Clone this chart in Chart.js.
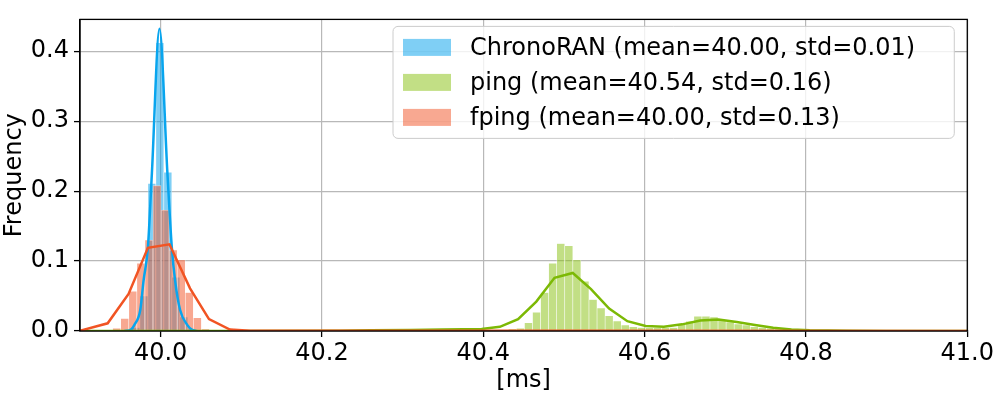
<!DOCTYPE html>
<html>
<head>
<meta charset="utf-8">
<script src="https://cdn.jsdelivr.net/npm/chart.js@4/dist/chart.umd.min.js"></script>
<style>html,body{margin:0;padding:0;background:#fff}canvas{display:block}</style>
</head>
<body>
<canvas id="c" width="996" height="399"></canvas>
<script>
// ---------- data ----------
const X_MIN = 39.9, X_MAX = 41.0;
const Y_MIN = 0, Y_MAX = 0.4455;
const X_TICKS = [40.0, 40.2, 40.4, 40.6, 40.8, 41.0];
const Y_TICKS = [0.0, 0.1, 0.2, 0.3, 0.4];
const X_TITLE = '[ms]';
const Y_TITLE = 'Frequency';
const SERIES_NAMES = [
  'ChronoRAN (mean=40.00, std=0.01)',
  'ping (mean=40.54, std=0.16)',
  'fping (mean=40.00, std=0.13)'
];

// ChronoRAN histogram (bin centres, frequency)
const CHRONO_BINS = [39.9693, 39.9792, 39.9891, 39.9990, 40.0089, 40.0188, 40.0287, 40.0386];
const CHRONO_FREQ = [0.005, 0.050, 0.211, 0.412, 0.227, 0.077, 0.020, 0.003];
// ChronoRAN curve
const CHRONO_LINE_X = [39.955, 39.9632, 39.9673, 39.9747, 39.9788, 39.9842, 39.9891, 39.9985, 40.0084, 40.0138, 40.0179, 40.0241, 40.0331, 40.0385, 40.045];
const CHRONO_LINE_Y = [0.000, 0.002, 0.0085, 0.030, 0.072, 0.120, 0.225, 0.432, 0.225, 0.120, 0.072, 0.030, 0.0085, 0.002, 0.000];

// ping histogram
const PING_BINS = [40.436, 40.446, 40.456, 40.466, 40.476, 40.486, 40.496, 40.506, 40.516, 40.526,
                   40.536, 40.546, 40.556, 40.566, 40.576, 40.586, 40.596, 40.606, 40.616, 40.626,
                   40.636, 40.646, 40.656, 40.666, 40.676, 40.686, 40.696, 40.706, 40.716, 40.726,
                   40.736, 40.746, 40.756, 40.766, 40.776, 40.786];
const PING_FREQ = [0.003, 0.004, 0.012, 0.027, 0.055, 0.097, 0.125, 0.122, 0.102, 0.071,
                   0.045, 0.033, 0.022, 0.0145, 0.0085, 0.006, 0.005, 0.0047, 0.0047, 0.0047,
                   0.005, 0.010, 0.014, 0.021, 0.021, 0.020, 0.0156, 0.013, 0.010, 0.0085,
                   0.006, 0.005, 0.004, 0.003, 0.002, 0.001];
// ping curve
const PING_LINE_X = [39.9, 40.1, 40.2235, 40.26, 40.31, 40.35, 40.3753, 40.3979, 40.4205, 40.4431,
                     40.4657, 40.4883, 40.5109, 40.5335, 40.5560, 40.5786, 40.6012, 40.6238, 40.6464, 40.6690,
                     40.6916, 40.7142, 40.7368, 40.7594, 40.7820, 40.8046, 40.85, 40.9, 41.0];
const PING_LINE_Y = [0.000, 0.000, 0.0004, 0.001, 0.0015, 0.002, 0.0025, 0.003, 0.006, 0.017,
                     0.042, 0.076, 0.083, 0.060, 0.032, 0.014, 0.0072, 0.006, 0.0095, 0.015,
                     0.0165, 0.013, 0.0085, 0.0045, 0.002, 0.001, 0.0003, 0.000, 0.000];

// fping histogram
const FPING_BINS = [39.9455, 39.9555, 39.9655, 39.9755, 39.9855, 39.9955, 40.0055, 40.0155, 40.0255, 40.0355, 40.0455, 40.0555];
const FPING_FREQ = [0.004, 0.018, 0.057, 0.097, 0.130, 0.208, 0.173, 0.116, 0.102, 0.055, 0.019, 0.003];
// fping curve
const FPING_LINE_X = [39.9, 39.9343, 39.9602, 39.9842, 40.0109, 40.0364, 40.0599, 40.0858, 40.111, 40.5, 41.0];
const FPING_LINE_Y = [0.0004, 0.011, 0.053, 0.119, 0.124, 0.061, 0.017, 0.002, 0.0005, 0.0002, 0.000];

// ---------- styles ----------
const FONT = "'DejaVu Sans', 'Liberation Sans', sans-serif";
const BLUE_LINE = 'rgb(8,165,238)', BLUE_FILL = 'rgba(0,160,236,0.5)';
const GREEN_LINE = 'rgb(124,185,5)', GREEN_FILL = 'rgba(133,191,11,0.5)';
const ORANGE_LINE = 'rgb(241,84,35)', ORANGE_FILL = 'rgba(241,81,35,0.5)';

const pts = (xs, ys) => xs.map((x, i) => ({x: x, y: ys[i]}));
const barDs = (label, xs, ys, color, axis, order) => ({
  type: 'bar', label, data: pts(xs, ys), xAxisID: axis, yAxisID: 'y',
  backgroundColor: color, borderColor: 'rgba(255,255,255,0.6)', borderWidth: 0.6,
  barPercentage: 1, categoryPercentage: 1, grouped: false, order
});
const lineDs = (label, xs, ys, color, order, extra) => Object.assign({
  type: 'line', label, data: pts(xs, ys), xAxisID: 'x', yAxisID: 'y',
  borderColor: color, backgroundColor: color, borderWidth: 2.5, pointRadius: 0,
  fill: false, tension: 0, order, clip: 0
}, extra || {});

Chart.defaults.font.family = FONT;
Chart.defaults.font.size = 24;
Chart.defaults.color = '#000';

// invisible x axes (one per histogram so each gets its own bar width), same range as the main x axis
const hiddenX = () => ({
  type: 'linear', position: 'bottom', display: false, offset: false, min: X_MIN, max: X_MAX,
  grid: {offset: false}
});

const bgPlugin = {
  id: 'bg',
  beforeDraw(chart) {
    const c = chart.ctx; c.save(); c.fillStyle = '#fff';
    c.fillRect(0, 0, chart.width, chart.height); c.restore();
  }
};

const framePlugin = {
  id: 'frameAndLegend',
  afterDatasetsDraw(chart) {
    const c = chart.ctx, a = chart.chartArea;
    c.save();
    // axes frame (spines)
    c.strokeStyle = '#000'; c.lineWidth = 1.3;
    c.strokeRect(a.left, a.top, a.right - a.left, a.bottom - a.top);
    // legend box
    const x0 = a.left + 313, y0 = a.top + 7, x1 = a.right - 13, y1 = a.top + 119, r = 5;
    c.beginPath();
    c.moveTo(x0 + r, y0); c.lineTo(x1 - r, y0); c.arcTo(x1, y0, x1, y0 + r, r);
    c.lineTo(x1, y1 - r); c.arcTo(x1, y1, x1 - r, y1, r);
    c.lineTo(x0 + r, y1); c.arcTo(x0, y1, x0, y1 - r, r);
    c.lineTo(x0, y0 + r); c.arcTo(x0, y0, x0 + r, y0, r); c.closePath();
    c.fillStyle = 'rgba(255,255,255,0.8)'; c.fill();
    c.strokeStyle = '#cccccc'; c.lineWidth = 1; c.stroke();
    const fills = [BLUE_FILL, GREEN_FILL, ORANGE_FILL];
    c.font = '24px ' + FONT; c.textBaseline = 'middle'; c.textAlign = 'left';
    SERIES_NAMES.forEach((name, i) => {
      const cy = y0 + 21 + i * 35;
      c.fillStyle = fills[i];
      c.fillRect(x0 + 10, cy - 8.5, 48, 17);
      c.fillStyle = '#000';
      c.fillText(name, x0 + 77, cy + 1);
    });
    c.restore();
  }
};

new Chart(document.getElementById('c'), {
  data: {
    datasets: [
      lineDs('fping curve', FPING_LINE_X, FPING_LINE_Y, ORANGE_LINE, 0),
      lineDs('ping curve', PING_LINE_X, PING_LINE_Y, GREEN_LINE, 1),
      lineDs('ChronoRAN curve', CHRONO_LINE_X, CHRONO_LINE_Y, BLUE_LINE, 2, {cubicInterpolationMode: 'monotone'}),
      barDs(SERIES_NAMES[2], FPING_BINS, FPING_FREQ, ORANGE_FILL, 'xo', 3),
      barDs(SERIES_NAMES[1], PING_BINS, PING_FREQ, GREEN_FILL, 'xg', 4),
      barDs(SERIES_NAMES[0], CHRONO_BINS, CHRONO_FREQ, BLUE_FILL, 'xb', 5)
    ]
  },
  options: {
    responsive: false,
    devicePixelRatio: 1,
    animation: false,
    events: [],
    layout: {padding: {left: 0, right: 26, top: 17, bottom: 0}},
    plugins: {legend: {display: false}, tooltip: {enabled: false}, title: {display: false}},
    scales: {
      x: {
        type: 'linear', position: 'bottom', offset: false, min: X_MIN, max: X_MAX,
        afterBuildTicks: (s) => { s.ticks = X_TICKS.map(v => ({value: v})); },
        afterFit: (s) => { s.height = 68; },
        ticks: {callback: (v) => Number(v).toFixed(1), padding: 2, maxRotation: 0, autoSkip: false, color: '#000', font: {size: 24}},
        grid: {offset: false, color: '#b8b8b8', lineWidth: 1.2, tickColor: '#000', tickLength: 6, tickWidth: 1.3, drawTicks: true},
        border: {display: true, color: '#000', width: 1.3},
        title: {display: true, text: X_TITLE, color: '#000', font: {size: 24}, padding: {top: 0, bottom: 4}}
      },
      xb: hiddenX(), xg: hiddenX(), xo: hiddenX(),
      y: {
        type: 'linear', position: 'left', min: Y_MIN, max: Y_MAX,
        afterBuildTicks: (s) => { s.ticks = Y_TICKS.map(v => ({value: v})); },
        afterFit: (s) => { s.width = 80; },
        ticks: {callback: (v) => Number(v).toFixed(1), padding: 5, color: '#000', font: {size: 24}},
        grid: {color: '#b8b8b8', lineWidth: 1.2, tickColor: '#000', tickLength: 6, tickWidth: 1.3, drawTicks: true},
        border: {display: true, color: '#000', width: 1.3},
        title: {display: true, text: Y_TITLE, color: '#000', font: {size: 24}, padding: {top: 0, bottom: 0}}
      }
    }
  },
  plugins: [bgPlugin, framePlugin]
});
</script>
</body>
</html>
